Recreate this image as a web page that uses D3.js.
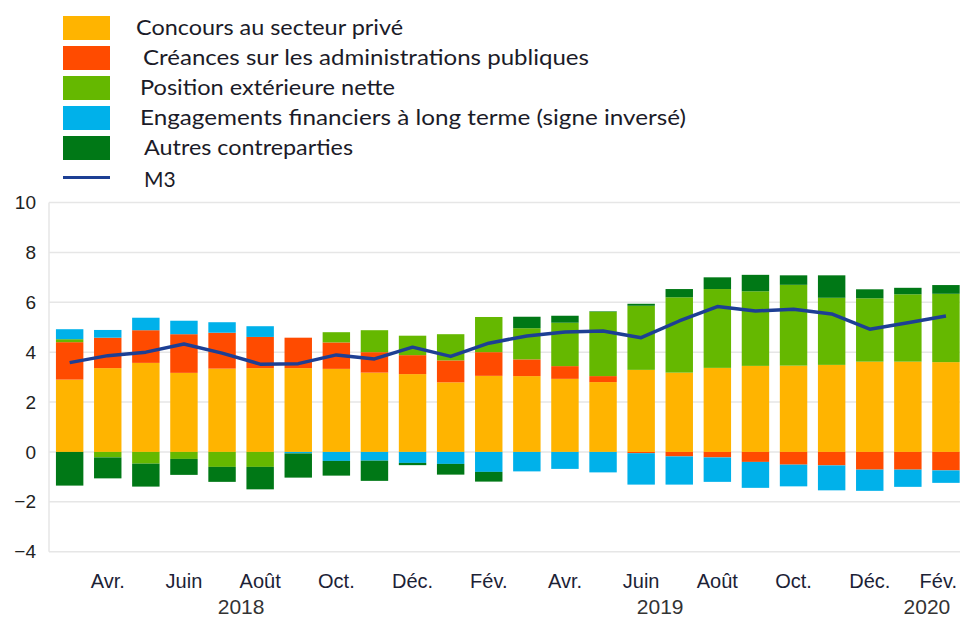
<!DOCTYPE html>
<html>
<head>
<meta charset="utf-8">
<script src="https://cdn.jsdelivr.net/npm/d3@7"></script>
<style>
  body { margin: 0; background: #fff; }
  .legend_text { font-family: Lato, "Open Sans", sans-serif; font-size: 21px; fill: #1b1b28; }
  .tick_text { font-family: "Liberation Sans", Arial, sans-serif; font-size: 19px; fill: #222; }
  .month_text { font-family: "Liberation Sans", Arial, sans-serif; font-size: 20px; fill: #1c2236; }
  .year_text { font-family: "Liberation Sans", Arial, sans-serif; font-size: 21px; fill: #333; }
</style>
</head>
<body>
<div id="m3chart"></div>
<script>

// mois de mars 2018 a fevrier 2020
var months = ["mar18","avr18","mai18","jun18","jul18","aou18","sep18","oct18","nov18","dec18",
              "jan19","fev19","mar19","avr19","mai19","jun19","jul19","aou19","sep19","oct19","nov19","dec19",
              "jan20","fev20"];
var monthLabels = ["","Avr.","","Juin","","Août","","Oct.","","Déc.",
                   "","Fév.","","Avr.","","Juin","","Août","","Oct.","","Déc.",
                   "","Fév."];
var years = ["2018", "2019", "2020"];
var yearFirst = [0, 10, 22];
var yearLast = [9, 21, 23];
var yTicks = [-4, -2, 0, 2, 4, 6, 8, 10];

var seriesNames = ["Concours au secteur privé", "Créances sur les administrations publiques",
                   "Position extérieure nette", "Engagements financiers à long terme (signe inversé)",
                   "Autres contreparties"];

var prive    = [2.9, 3.36, 3.57, 3.17, 3.34, 3.36, 3.36, 3.33, 3.18, 3.12, 2.79, 3.05, 3.04, 2.93, 2.8, 3.29, 3.18, 3.37, 3.45, 3.46, 3.49, 3.62, 3.62, 3.6];
var apu      = [1.5, 1.22, 1.31, 1.55, 1.44, 1.25, 1.22, 1.06, 0.82, 0.76, 0.88, 0.95, 0.67, 0.51, 0.24, -0.05, -0.18, -0.22, -0.4, -0.51, -0.54, -0.71, -0.71, -0.74];
var exterieur= [0.12, -0.22, -0.47, -0.28, -0.6, -0.6, 0, 0.41, 0.88, 0.78, 1.05, 1.41, 1.25, 1.74, 2.58, 2.57, 3.02, 3.16, 2.99, 3.24, 2.69, 2.54, 2.7, 2.74];
var engagements = [0.4, 0.31, 0.5, 0.54, 0.42, 0.43, -0.06, -0.36, -0.35, -0.44, -0.48, -0.8, -0.78, -0.68, -0.82, -1.26, -1.13, -0.98, -1.04, -0.87, -1.0, -0.85, -0.69, -0.5];
var autres   = [-1.35, -0.84, -0.92, -0.64, -0.6, -0.9, -0.97, -0.59, -0.81, -0.09, -0.43, -0.39, 0.46, 0.28, 0.02, 0.08, 0.33, 0.47, 0.66, 0.38, 0.9, 0.36, 0.26, 0.35];
var m3       = [3.58, 3.86, 4.0, 4.33, 3.96, 3.52, 3.54, 3.89, 3.73, 4.2, 3.83, 4.36, 4.65, 4.81, 4.85, 4.58, 5.25, 5.83, 5.65, 5.72, 5.53, 4.92, 5.18, 5.45];

var colors = ["#ffb400", "#ff4b00", "#65b800", "#00b1ea", "#007816"];
var lineColor = "#1d3f94";

var width = 960, height = 617;

// table pour d3.stack
var keys = ["prive", "apu", "exterieur", "engagements", "autres"];
var table = [];
for (var i = 0; i < months.length; i++) {
  table.push({month: months[i], prive: prive[i], apu: apu[i], exterieur: exterieur[i],
              engagements: engagements[i], autres: autres[i]});
}

var stacked = d3.stack()
    .keys(keys)
    .offset(d3.stackOffsetDiverging)(table);

var x = d3.scaleBand()
    .domain(months)
    .range([50.6, 965])
    .paddingInner(0.28)
    .paddingOuter(0.14);

var y = d3.scaleLinear()
    .domain([-4, 10])
    .range([551.7, 202.5]);

var svg = d3.select("#m3chart").append("svg")
    .attr("width", width)
    .attr("height", height);

// grille
svg.append("g").selectAll("line")
    .data(yTicks)
    .enter().append("line")
    .attr("x1", 49).attr("x2", width)
    .attr("y1", function(d) { return y(d); })
    .attr("y2", function(d) { return y(d); })
    .attr("stroke", "#e6e6e6")
    .attr("stroke-width", 1.5);

svg.append("line")
    .attr("x1", 49).attr("x2", 49)
    .attr("y1", y(10)).attr("y2", y(-4))
    .attr("stroke", "#e6e6e6")
    .attr("stroke-width", 1.5);

var yAxis = d3.axisLeft(y)
    .tickValues(yTicks)
    .tickSize(0)
    .tickPadding(13);

var yg = svg.append("g")
    .attr("transform", "translate(49,0)")
    .call(yAxis);
yg.select(".domain").remove();
yg.selectAll("text").attr("class", "tick_text").attr("font-size", null).attr("font-family", null);

// barres
svg.append("g").selectAll("g")
    .data(stacked)
    .enter().append("g")
    .attr("fill", function(d, i) { return colors[i]; })
    .selectAll("rect")
    .data(function(d) { return d; })
    .enter().append("rect")
    .attr("x", function(d) { return x(d.data.month); })
    .attr("width", x.bandwidth())
    .attr("y", function(d) { return y(Math.max(d[0], d[1])); })
    .attr("height", function(d) { return Math.abs(y(d[0]) - y(d[1])); });

// M3
var line = d3.line()
    .x(function(d, i) { return x(months[i]) + x.bandwidth() / 2; })
    .y(function(d) { return y(d); });

svg.append("path")
    .datum(m3)
    .attr("d", line)
    .attr("fill", "none")
    .attr("stroke", lineColor)
    .attr("stroke-width", 3.5)
    .attr("stroke-linejoin", "round");

// axe des mois
var xAxis = d3.axisBottom(x)
    .tickFormat(function(d, i) { return monthLabels[i]; })
    .tickSize(0)
    .tickPadding(0);

var xg = svg.append("g")
    .attr("transform", "translate(0,574)")
    .call(xAxis);
xg.select(".domain").remove();
xg.selectAll("text").attr("class", "month_text").attr("font-size", null).attr("font-family", null)
    .attr("dy", "0.71em");

// le dernier libelle ne doit pas sortir du cadre
xg.selectAll(".tick").each(function(d) {
  var t = d3.select(this).select("text");
  var w = t.node().getComputedTextLength();
  var cx = x(d) + x.bandwidth() / 2;
  if (cx + w / 2 > width - 3) {
    t.attr("x", (width - 3 - w / 2) - cx);
  }
});

svg.append("g").selectAll("text")
    .data(years)
    .enter().append("text")
    .attr("class", "year_text")
    .attr("text-anchor", "middle")
    .attr("x", function(d, i) {
      return (x(months[yearFirst[i]]) + x(months[yearLast[i]])) / 2 + x.bandwidth() / 2;
    })
    .attr("y", 614)
    .text(function(d) { return d; });

// legende
var legendX = 63, legendY = 16, legendStep = 30;
var legendTextX = [136, 143, 140, 140, 144];
var legendTextW = [267, 446, 255, 546, 209];

var legend = svg.append("g").selectAll("g")
    .data(seriesNames)
    .enter().append("g")
    .attr("transform", function(d, i) { return "translate(0," + (legendY + i * legendStep) + ")"; });

legend.append("rect")
    .attr("x", legendX)
    .attr("width", 47)
    .attr("height", 24)
    .attr("fill", function(d, i) { return colors[i]; });

legend.append("text")
    .attr("class", "legend_text")
    .attr("x", function(d, i) { return legendTextX[i]; })
    .attr("y", 18.5)
    .attr("textLength", function(d, i) { return legendTextW[i]; })
    .attr("lengthAdjust", "spacingAndGlyphs")
    .text(function(d) { return d; });

svg.append("line")
    .attr("x1", legendX).attr("x2", legendX + 47)
    .attr("y1", 177.5).attr("y2", 177.5)
    .attr("stroke", lineColor)
    .attr("stroke-width", 3);

svg.append("text")
    .attr("class", "legend_text")
    .attr("x", 144)
    .attr("y", 186.5)
    .text("M3");

</script>
</body>
</html>
